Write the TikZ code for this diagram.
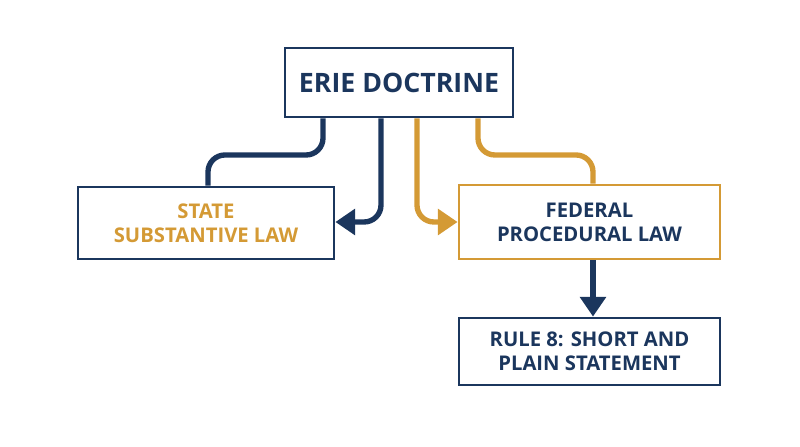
\documentclass[tikz,border=0pt]{standalone}
\usepackage{fontspec}
\setmainfont{Open Sans}
\usetikzlibrary{arrows.meta,positioning}
\definecolor{navy}{HTML}{1B365D}
\definecolor{gold}{HTML}{D49A35}
\tikzset{
  box/.style={draw=#1, line width=1pt, fill=white, align=center, font=\bfseries\fontsize{7.2}{8.6}\selectfont, inner sep=0pt},
  link/.style={line width=1.9pt, rounded corners=6pt},
  tip/.style={-{Triangle[length=7pt,width=9pt]}}
}
\begin{document}
\begin{tikzpicture}[x=0.0125cm,y=-0.0125cm]
\useasboundingbox (0,0) rectangle (800,447);

\node[box=navy, minimum width=228*0.0125cm, minimum height=69*0.0125cm, text=navy, font=\bfseries\fontsize{9.5}{11}\selectfont] (erie) at (399,82.5) {ERIE DOCTRINE};
\node[box=navy, minimum width=256*0.0125cm, minimum height=72*0.0125cm, text=gold] (state) at (206,223) {STATE\\SUBSTANTIVE LAW};
\node[box=gold, minimum width=261*0.0125cm, minimum height=74*0.0125cm, text=navy] (federal) at (589.5,222) {FEDERAL\\PROCEDURAL LAW};
\node[box=navy, minimum width=261*0.0125cm, minimum height=67*0.0125cm, text=navy] (rule) at (589.5,351.5) {RULE 8: SHORT AND\\PLAIN STATEMENT};

% connectors
\draw[link, navy] (erie.south -| 323,0) |- (208,155) -- (state.north -| 208,0);
\draw[link, navy, tip] (erie.south -| 381,0) |- (state.east |- 0,222);
\draw[link, gold, tip] (erie.south -| 417,0) |- (federal.west |- 0,222);
\draw[link, gold] (erie.south -| 478,0) |- (593,155) -- (federal.north -| 593,0);
\draw[link, navy, tip] (federal.south -| 593,0) -- (rule.north -| 593,0);
\end{tikzpicture}
\end{document}
